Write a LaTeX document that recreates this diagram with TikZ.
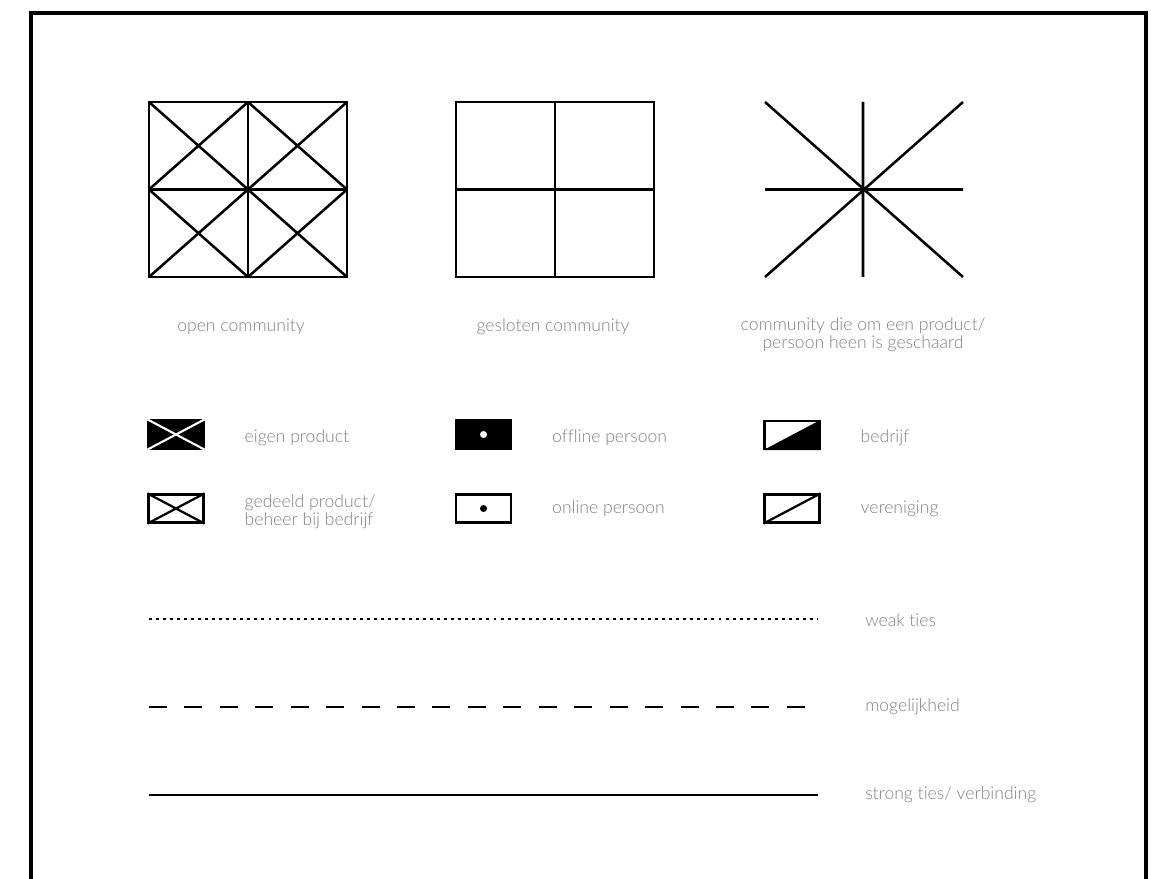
\documentclass[tikz,border=0pt]{standalone}
\usepackage{fontspec}
\IfFontExistsTF{Lato Light}
 {\setmainfont{Lato Light}[Ligatures=CommonOff]}
 {\setmainfont{Lato}[Ligatures=CommonOff]}
\usetikzlibrary{positioning}
\begin{document}
\begin{tikzpicture}[x=.025cm,y=-.025cm,line width=1.8pt,
 txt/.style={font=\fontsize{12.5}{13}\selectfont,text=black!50,inner sep=0pt},
 iconbox/.style={draw,rectangle,minimum width=1.375cm,minimum height=.7cm,inner sep=0pt,line width=1.6pt},
 dot/.style={circle,inner sep=0pt,minimum size=5pt},
 tie/.style={line width=2.1pt}]
\useasboundingbox (0,0) rectangle (1151,879);
\draw[line width=2.2pt] (31,881) |- (1146,13) -- (1146,881);
% open community
\draw (149,102) rectangle (347,277) (248,102) -- (248,277) (149,189.5) -- (347,189.5);
\foreach \x in {149,248}
 \foreach \y in {102,189.5}
  \draw (\x,\y) -- ++(99,87.5) (\x+99,\y) -- ++(-99,87.5);
% gesloten community
\draw (456,102) rectangle (654,277) (555,102) -- (555,277) (456,189.5) -- (654,189.5);
% community rond product/persoon
\draw (765,102) -- (963,277) (963,102) -- (765,277) (863,102) -- (863,277) (765,189.5) -- (963,189.5);
\node[txt] (open) at (241,327) {open community};
\node[txt] (closed) at (553,327) {gesloten community};
\node[txt,align=center] (star) at (863,335) {community die om een product/\\persoon heen is geschaard};
% icons
\node[iconbox,fill=black] (eigen) at (176,434.5) {};
\draw[white,line width=1.5pt] (eigen.north west) -- (eigen.south east) (eigen.north east) -- (eigen.south west);
\node[iconbox,fill=black] (offline) at (483.5,434.5) {};
\node[dot,fill=white] (offdot) at (offline) {};
\node[iconbox,fill=white] (bedrijf) at (792,435) {};
\fill (bedrijf.south west) -- (bedrijf.north east) -- (bedrijf.south east) -- cycle;
\node[iconbox] (gedeeld) at (176,508.5) {};
\draw[line width=1.6pt] (gedeeld.north west) -- (gedeeld.south east) (gedeeld.north east) -- (gedeeld.south west);
\node[iconbox] (online) at (483.5,508.5) {};
\node[dot,fill=black] (ondot) at (online) {};
\node[iconbox] (vereniging) at (792,508.5) {};
\draw[line width=1.6pt] (vereniging.south west) -- (vereniging.north east);
\node[txt,yshift=-2pt,right=.97cm of eigen] (teigen) {eigen product};
\node[txt,yshift=-2pt,right=.97cm of offline] (toffline) {offline persoon};
\node[txt,yshift=-2pt,right=.97cm of bedrijf] (tbedrijf) {bedrijf};
\node[txt,yshift=-2.5pt,align=left,right=.97cm of gedeeld] (tgedeeld) {gedeeld product/\\beheer bij bedrijf};
\node[txt,right=.97cm of online] (tonline) {online persoon};
\node[txt,right=.97cm of vereniging] (tvereniging) {vereniging};
% ties
\coordinate (w1) at (149,619); \coordinate (w2) at (818,619);
\draw[tie,dash pattern=on 2.1pt off 2.9pt] (w1) -- (w2);
\node[txt,anchor=west] (tweak) at (864,620) {weak ties};
\coordinate (m1) at (149,707); \coordinate (m2) at (806,707);
\draw[tie,dash pattern=on 12.8pt off 12.4pt] (m1) -- (m2);
\node[txt,anchor=west] (tmog) at (864,707) {mogelijkheid};
\coordinate (s1) at (149,795); \coordinate (s2) at (818,795);
\draw[tie] (s1) -- (s2);
\node[txt,anchor=west] (tstrong) at (864,795) {strong ties/ verbinding};
\end{tikzpicture}
\end{document}
